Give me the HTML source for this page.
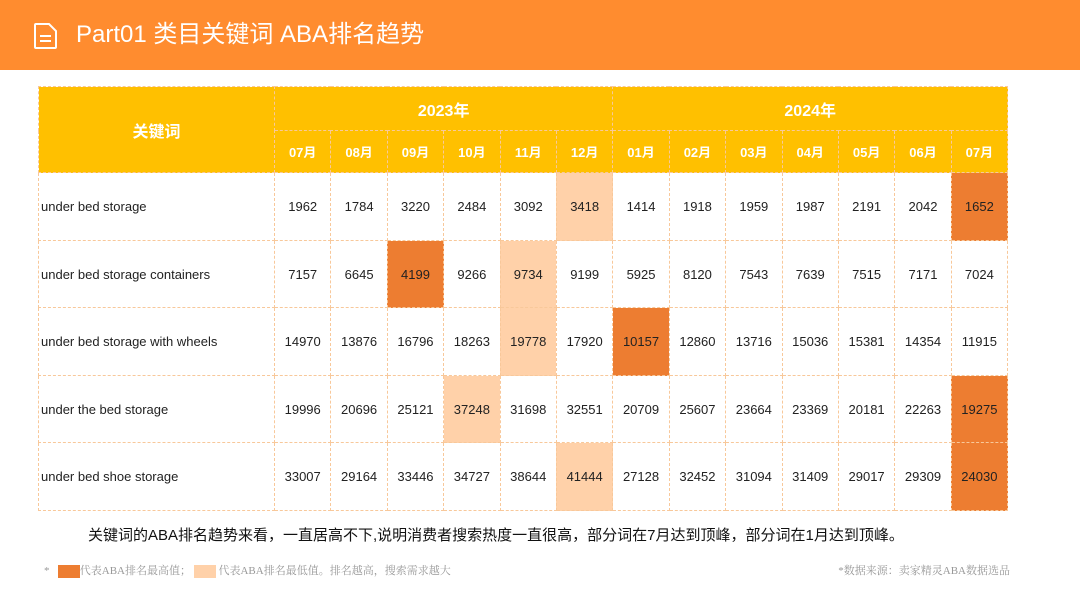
<!DOCTYPE html>
<html><head><meta charset="utf-8">
<style>
body{margin:0;width:1080px;height:608px;background:#fff;font-family:"Liberation Sans","Noto Sans CJK SC",sans-serif;position:relative;overflow:hidden}
#hdr{position:absolute;left:0;top:0;width:1080px;height:70px;background:#FF8C2F}
#title{position:absolute;left:76px;top:18px;color:#fff;font-size:24px;line-height:34px}
#icon{position:absolute;left:33px;top:22px}
table{position:absolute;left:38px;top:86px;border-collapse:collapse;table-layout:fixed}
td{border:1px dashed #F8C89A;text-align:center;font-size:13px;color:#222;padding:0}
.h td{background:#FFC000;color:#fff;font-weight:bold}
.kw{text-align:left;padding-left:2px}
.dk{background:#ED7D31}.lt{background:#FFD1A9}
#note{position:absolute;left:88px;top:524px;font-size:15px;color:#111}
#leg{position:absolute;left:44px;top:562px;font-size:11px;color:#999;font-family:"Liberation Serif","Noto Serif CJK SC",serif}
.sw{display:inline-block;width:22px;height:13px;vertical-align:middle}
#src{position:absolute;right:70px;top:562px;font-size:11px;color:#999;font-family:"Liberation Serif","Noto Serif CJK SC",serif}
</style></head><body>
<div id="hdr"></div>
<svg id="icon" width="26" height="28" viewBox="0 0 26 28"><path d="M3 2h13l7 7v16a1 1 0 0 1-1 1H3a1 1 0 0 1-1-1V3a1 1 0 0 1 1-1z" fill="none" stroke="#fff" stroke-width="2"/><path d="M7 14h11M7 19h11" stroke="#fff" stroke-width="2"/></svg>
<div id="title">Part01 类目关键词 ABA排名趋势</div>
<table id="tbl">
<colgroup><col style="width:236px"></colgroup>
<tr class="h" style="height:44px"><td rowspan="2" style="font-size:16px">关键词</td><td colspan="6" style="font-size:16px">2023年</td><td colspan="7" style="font-size:16px">2024年</td></tr>
<tr class="h" id="mrow" style="height:42px"></tr>
</table>
<div id="note">关键词的ABA排名趋势来看，一直居高不下,说明消费者搜索热度一直很高，部分词在7月达到顶峰，部分词在1月达到顶峰。</div>
<div id="leg">* &nbsp;&nbsp;<span class="sw dk"></span>代表ABA排名最高值； <span class="sw lt"></span> 代表ABA排名最低值。排名越高，搜索需求越大</div>
<div id="src">*数据来源：卖家精灵ABA数据选品</div>
<script>
const months=["07月","08月","09月","10月","11月","12月","01月","02月","03月","04月","05月","06月","07月"];
const keywords=["under bed storage","under bed storage containers","under bed storage with wheels","under the bed storage","under bed shoe storage"];
const values=[
[1962,1784,3220,2484,3092,3418,1414,1918,1959,1987,2191,2042,1652],
[7157,6645,4199,9266,9734,9199,5925,8120,7543,7639,7515,7171,7024],
[14970,13876,16796,18263,19778,17920,10157,12860,13716,15036,15381,14354,11915],
[19996,20696,25121,37248,31698,32551,20709,25607,23664,23369,20181,22263,19275],
[33007,29164,33446,34727,38644,41444,27128,32452,31094,31409,29017,29309,24030]];
const highIdx=[12,2,6,12,12];
const lowIdx=[5,4,4,3,5];
const tbl=document.getElementById('tbl'),mrow=document.getElementById('mrow');
const cg=tbl.querySelector('colgroup');
months.forEach(()=>{const c=document.createElement('col');c.style.width='56.4px';cg.appendChild(c);});
months.forEach(m=>{const td=document.createElement('td');td.textContent=m;


mrow.appendChild(td);});
const hs=[68,67,68,67,68];
keywords.forEach((k,i)=>{const tr=document.createElement('tr');tr.style.height=hs[i]+'px';


const kd=document.createElement('td');kd.className='kw';kd.textContent=k;


tr.appendChild(kd);
values[i].forEach((v,j)=>{const td=document.createElement('td');td.textContent=v;
if(j===highIdx[i])td.className='dk';else if(j===lowIdx[i])td.className='lt';


tr.appendChild(td);});
tbl.appendChild(tr);});
</script>
</body></html>
